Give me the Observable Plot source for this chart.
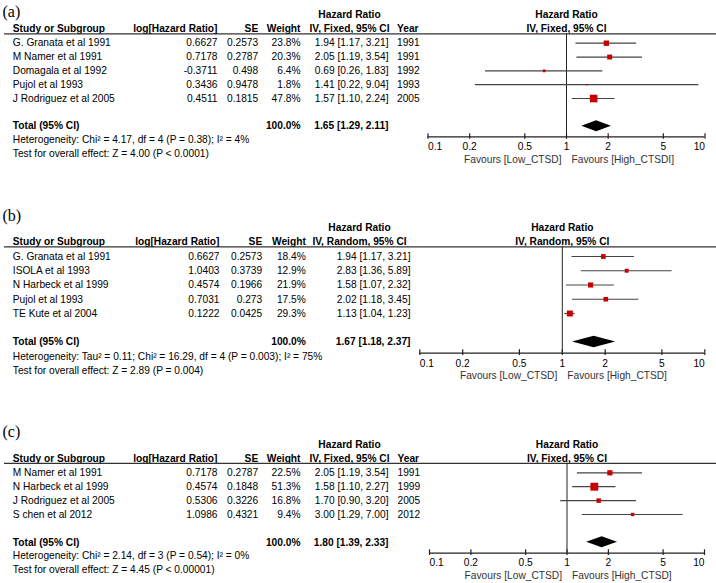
<!DOCTYPE html>
<html><head><meta charset="utf-8">
<script src="https://cdn.jsdelivr.net/npm/d3@7"></script>
<script src="https://cdn.jsdelivr.net/npm/@observablehq/plot@0.6"></script>
<style>
body{margin:0;background:#fff;}
#chart{width:716px;height:583px;background:#fff;}
#chart svg{display:block;}
</style></head><body><div id="chart"></div>
<script>
// ---------- shared labels ----------
const tickValues = [0.1, 0.2, 0.5, 1, 2, 5, 10];
const tickLabels = ["0.1", "0.2", "0.5", "1", "2", "5", "10"];
const nullHR = 1;
const headStudy = "Study or Subgroup";
const headLog = "log[Hazard Ratio]";
const headSE = "SE";
const headWeight = "Weight";
const headHR = "Hazard Ratio";
const headYear = "Year";
const totalLabel = "Total (95% CI)";
const totalWeight = "100.0%";

// ---------- panel (a) ----------
const labelA = "(a)";
const methodA = "IV, Fixed, 95% CI";
const studiesA = ["G. Granata et al 1991", "M Namer et al 1991", "Domagala et al 1992", "Pujol et al 1993", "J Rodriguez et al 2005"];
const logHrA = ["0.6627", "0.7178", "-0.3711", "0.3436", "0.4511"];
const seA = ["0.2573", "0.2787", "0.498", "0.9478", "0.1815"];
const weightA = [23.8, 20.3, 6.4, 1.8, 47.8];
const hrA = [1.94, 2.05, 0.69, 1.41, 1.57];
const loA = [1.17, 1.19, 0.26, 0.22, 1.10];
const hiA = [3.21, 3.54, 1.83, 9.04, 2.24];
const yearA = ["1991", "1991", "1992", "1993", "2005"];
const totalA = [1.65, 1.29, 2.11];
const hetA = "Heterogeneity: Chi\u00b2 = 4.17, df = 4 (P = 0.38); I\u00b2 = 4%";
const testA = "Test for overall effect: Z = 4.00 (P < 0.0001)";
const favA = ["Favours [Low_CTSD]", "Favours [High_CTSDI]"];

// ---------- panel (b) ----------
const labelB = "(b)";
const methodB = "IV, Random, 95% CI";
const studiesB = ["G. Granata et al 1991", "ISOLA et al 1993", "N Harbeck et al 1999", "Pujol et al 1993", "TE Kute et al 2004"];
const logHrB = ["0.6627", "1.0403", "0.4574", "0.7031", "0.1222"];
const seB = ["0.2573", "0.3739", "0.1966", "0.273", "0.0425"];
const weightB = [18.4, 12.9, 21.9, 17.5, 29.3];
const hrB = [1.94, 2.83, 1.58, 2.02, 1.13];
const loB = [1.17, 1.36, 1.07, 1.18, 1.04];
const hiB = [3.21, 5.89, 2.32, 3.45, 1.23];
const totalB = [1.67, 1.18, 2.37];
const hetB = "Heterogeneity: Tau\u00b2 = 0.11; Chi\u00b2 = 16.29, df = 4 (P = 0.003); I\u00b2 = 75%";
const testB = "Test for overall effect: Z = 2.89 (P = 0.004)";
const favB = ["Favours [Low_CTSD]", "Favours [High_CTSD]"];

// ---------- panel (c) ----------
const labelC = "(c)";
const methodC = "IV, Fixed, 95% CI";
const studiesC = ["M Namer et al 1991", "N Harbeck et al 1999", "J Rodriguez et al 2005", "S chen et al 2012"];
const logHrC = ["0.7178", "0.4574", "0.5306", "1.0986"];
const seC = ["0.2787", "0.1848", "0.3226", "0.4321"];
const weightC = [22.5, 51.3, 16.8, 9.4];
const hrC = [2.05, 1.58, 1.70, 3.00];
const loC = [1.19, 1.10, 0.90, 1.29];
const hiC = [3.54, 2.27, 3.20, 7.00];
const yearC = ["1991", "1999", "2005", "2012"];
const totalC = [1.80, 1.39, 2.33];
const hetC = "Heterogeneity: Chi\u00b2 = 2.14, df = 3 (P = 0.54); I\u00b2 = 0%";
const testC = "Test for overall effect: Z = 4.45 (P < 0.00001)";
const favC = ["Favours [Low_CTSD]", "Favours [High_CTSD]"];

// ---------- layout (pixels) ----------
const layoutA = {height: 195, row0: 42.7, step: 13.83, xRange: [427.5, 704.5], labelRow: -2.29,
  cols: {name: 12.3, log: 217, se: 257.7, weight: 300, ci: 388, ciHead: 349, year: 396.5}};
const layoutB = {height: 195, row0: 61, step: 14.25, xRange: [419.3, 704.3], labelRow: -2.88,
  cols: {name: 12.3, log: 219, se: 261.7, weight: 305.3, ci: 410, ciHead: 359, year: null}};
const layoutC = {height: 193, row0: 82.3, step: 13.9, xRange: [429, 704], labelRow: -2.92,
  cols: {name: 12.3, log: 217, se: 257.7, weight: 300, ci: 388, ciHead: 349, year: 397}};

const FONT = "'Liberation Sans', Arial, sans-serif";
const FS = 10.2;
const RED = "#c80000";

function fmtCI(h, l, u) { return `${h.toFixed(2)} [${l.toFixed(2)}, ${u.toFixed(2)}]`; }

function panel(p, L) {
  const n = p.studies.length;
  const rows = p.studies.map((s, i) => ({
    i, name: s, log: p.logHr[i], se: p.se[i], w: p.weight[i],
    hr: p.hr[i], lo: p.lo[i], hi: p.hi[i], year: p.year ? p.year[i] : null
  }));
  const totalRow = n + 1, hetRow = n + 2, testRow = n + 3;
  const axisRow = totalRow + 0.78, tickLabRow = totalRow + 1.5, favRow = totalRow + 2.4;
  const head1 = -2.03, head2 = -1.04, lineRow = -0.68;
  const ml = 4;
  const C = L.cols;
  const at = (px, anchor, extra = {}) => ({frameAnchor: "left", dx: px - ml, textAnchor: anchor, fontSize: FS, ...extra});
  const B = {fontWeight: "bold"};
  const one = (val, row, opts) => Plot.text([val], {y: () => row, text: d => d, ...opts});
  const [tHR, tLo, tHi] = p.total;
  const diamond = [
    {x: tLo, y1: totalRow, y2: totalRow},
    {x: tHR, y1: totalRow - 0.4, y2: totalRow + 0.4},
    {x: tHi, y1: totalRow, y2: totalRow}
  ];
  const ticks = tickValues.map((v, k) => ({v, label: tickLabels[k]}));

  const marks = [
    // panel label
    Plot.text([p.label], {y: () => L.labelRow, text: d => d, frameAnchor: "left", dx: -2, textAnchor: "start",
      fontSize: 16, fontFamily: "'Liberation Serif', 'Times New Roman', serif"}),
    // headers (left table)
    one(headHR, head1, at(C.ciHead, "middle", B)),
    one(headStudy, head2, at(C.name, "start", B)),
    one(headLog, head2, at(C.log, "end", B)),
    one(headSE, head2, at(C.se, "end", B)),
    one(headWeight, head2, at(C.weight, "end", B)),
    one(p.method, head2, at(C.ciHead, "middle", B)),
    // headers (forest)
    Plot.text([headHR], {x: () => nullHR, y: () => head1, text: d => d, fontSize: FS, fontWeight: "bold"}),
    Plot.text([p.method], {x: () => nullHR, y: () => head2, text: d => d, fontSize: FS, fontWeight: "bold"}),
    Plot.ruleY([lineRow], {stroke: "#333", strokeWidth: 1.2}),
    // study rows
    Plot.text(rows, {y: "i", text: "name", ...at(C.name, "start")}),
    Plot.text(rows, {y: "i", text: "log", ...at(C.log, "end")}),
    Plot.text(rows, {y: "i", text: "se", ...at(C.se, "end")}),
    Plot.text(rows, {y: "i", text: d => d.w.toFixed(1) + "%", ...at(C.weight, "end")}),
    Plot.text(rows, {y: "i", text: d => fmtCI(d.hr, d.lo, d.hi), ...at(C.ci, "end")}),
    // totals
    one(totalLabel, totalRow, at(C.name, "start", B)),
    one(totalWeight, totalRow, at(C.weight, "end", B)),
    one(fmtCI(tHR, tLo, tHi), totalRow, at(C.ci, "end", B)),
    one(p.het, hetRow, at(C.name, "start")),
    one(p.test, testRow, at(C.name, "start")),
    // forest
    Plot.ruleX([nullHR], {y1: lineRow, y2: axisRow, stroke: "#222", strokeWidth: 1}),
    Plot.ruleY(rows, {y: "i", x1: "lo", x2: "hi", stroke: "#444", strokeWidth: 1.2}),
    Plot.dot(rows, {x: "hr", y: "i", r: "w", symbol: "square", fill: RED, stroke: null}),
    Plot.areaY(diamond, {x: "x", y1: "y1", y2: "y2", fill: "#000", curve: "linear"}),
    // axis
    Plot.ruleY([axisRow], {x1: () => tickValues[0], x2: () => tickValues[tickValues.length - 1], stroke: "#222", strokeWidth: 1.2}),
    Plot.ruleX(ticks, {x: "v", y1: axisRow - 0.24, y2: axisRow + 0.17, stroke: "#222", strokeWidth: 1.2}),
    Plot.text(ticks.slice(0, 1), {x: "v", y: () => tickLabRow, text: "label", textAnchor: "start", fontSize: FS}),
    Plot.text(ticks.slice(1, -1), {x: "v", y: () => tickLabRow, text: "label", textAnchor: "middle", fontSize: FS}),
    Plot.text(ticks.slice(-1), {x: "v", y: () => tickLabRow, text: "label", textAnchor: "end", fontSize: FS}),
    Plot.text([p.fav[0]], {x: () => nullHR, y: () => favRow, text: d => d, textAnchor: "end", dx: -5, fontSize: FS, fill: "#333"}),
    Plot.text([p.fav[1]], {x: () => nullHR, y: () => favRow, text: d => d, textAnchor: "start", dx: 5, fontSize: FS, fill: "#333"})
  ];
  if (C.year != null) {
    marks.push(one(headYear, head2, at(C.year, "start", B)));
    marks.push(Plot.text(rows, {y: "i", text: "year", ...at(C.year, "start")}));
  }
  return Plot.plot({
    width: 716, height: L.height,
    marginTop: 0, marginBottom: 0, marginRight: 0, marginLeft: ml,
    x: {type: "log", domain: [tickValues[0], tickValues[tickValues.length - 1]], range: L.xRange, axis: null},
    y: {type: "linear", domain: [0, 1], range: [L.row0, L.row0 + L.step], axis: null},
    r: {type: "sqrt", domain: [0, 100], range: [0, 6.2]},
    style: {fontFamily: FONT, fontSize: FS + "px", color: "#000", background: "#fff", overflow: "visible"},
    marks
  });
}

const root = document.getElementById("chart");
root.append(panel({label: labelA, method: methodA, studies: studiesA, logHr: logHrA, se: seA, weight: weightA,
  hr: hrA, lo: loA, hi: hiA, year: yearA, total: totalA, het: hetA, test: testA, fav: favA}, layoutA));
root.append(panel({label: labelB, method: methodB, studies: studiesB, logHr: logHrB, se: seB, weight: weightB,
  hr: hrB, lo: loB, hi: hiB, year: null, total: totalB, het: hetB, test: testB, fav: favB}, layoutB));
root.append(panel({label: labelC, method: methodC, studies: studiesC, logHr: logHrC, se: seC, weight: weightC,
  hr: hrC, lo: loC, hi: hiC, year: yearC, total: totalC, het: hetC, test: testC, fav: favC}, layoutC));
</script>
</body></html>
